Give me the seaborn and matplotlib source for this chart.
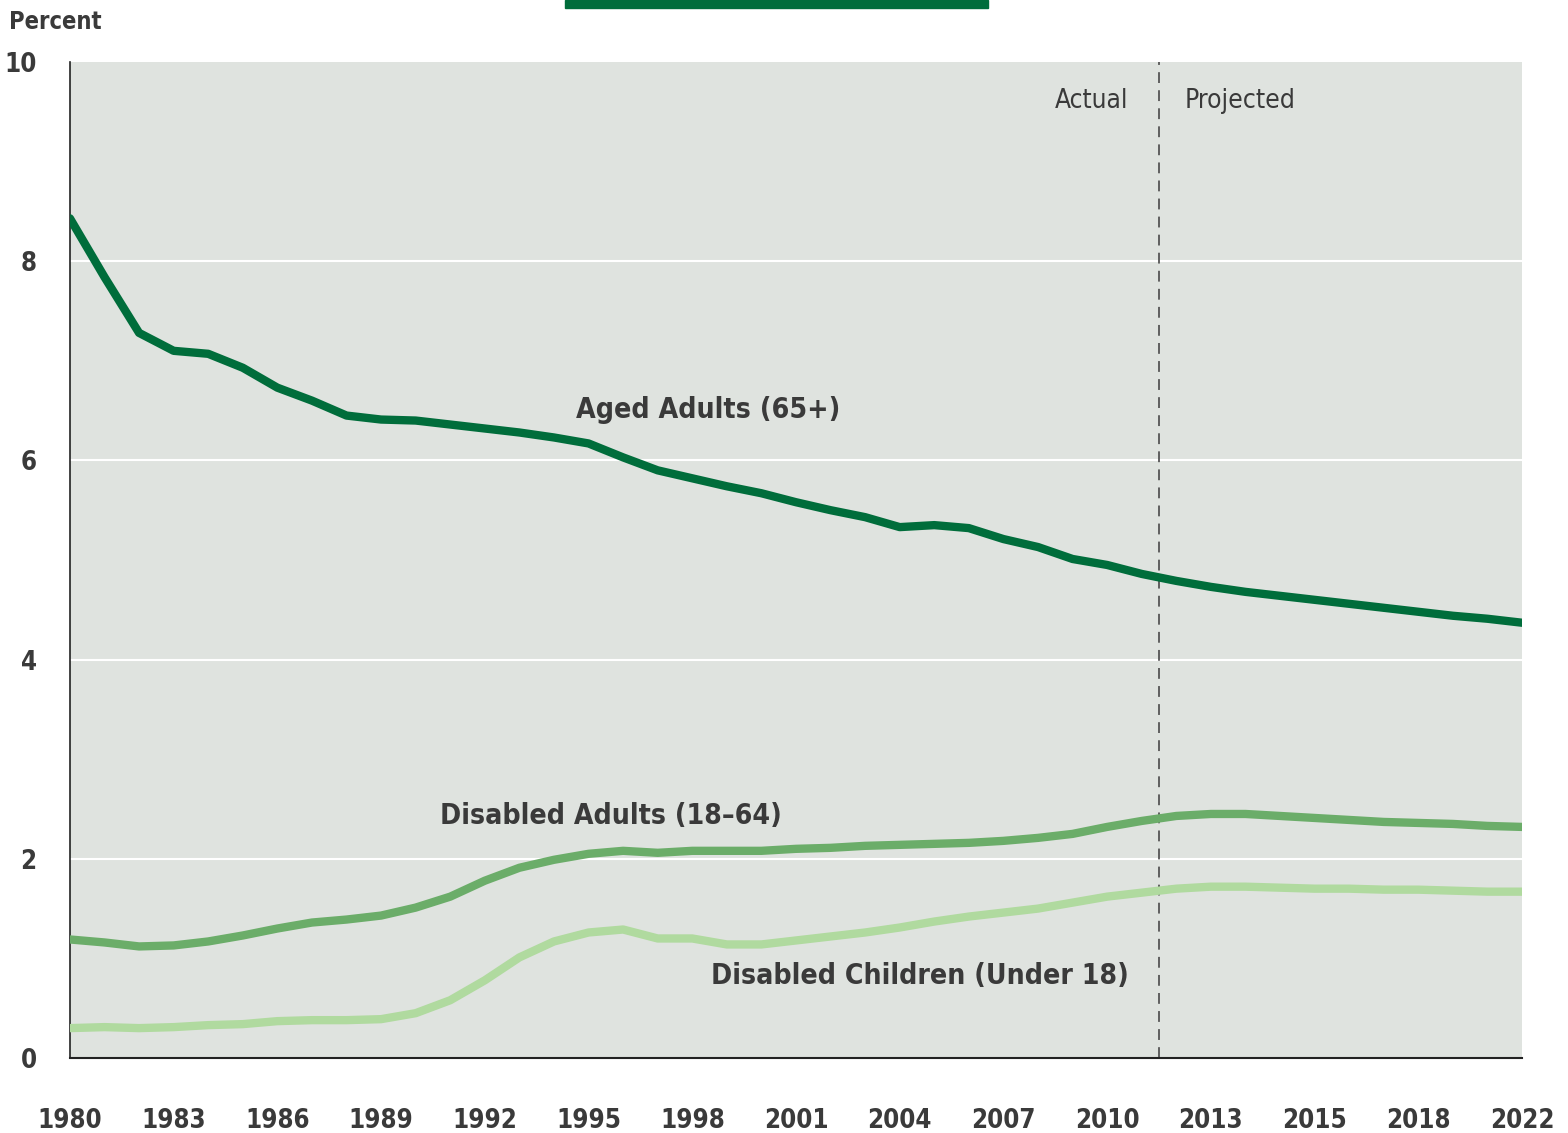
import matplotlib
matplotlib.use("Agg")
import matplotlib.pyplot as plt
import seaborn as sns
import pandas as pd
from matplotlib.patches import Rectangle

# Share of population receiving benefits, by group (percent)
years = list(range(1980, 2023))
aged_adults = [8.43, 7.84, 7.28, 7.10, 7.07, 6.93, 6.73, 6.60, 6.45, 6.41,
               6.40, 6.36, 6.32, 6.28, 6.23, 6.17, 6.03, 5.90, 5.82, 5.74,
               5.67, 5.58, 5.50, 5.43, 5.33, 5.35, 5.32, 5.21, 5.13, 5.01,
               4.95, 4.86, 4.79, 4.73, 4.68, 4.64, 4.60, 4.56, 4.52, 4.48,
               4.44, 4.41, 4.37]
disabled_adults = [1.19, 1.16, 1.12, 1.13, 1.17, 1.23, 1.30, 1.36, 1.39, 1.43,
                   1.51, 1.62, 1.78, 1.91, 1.99, 2.05, 2.08, 2.06, 2.08, 2.08,
                   2.08, 2.10, 2.11, 2.13, 2.14, 2.15, 2.16, 2.18, 2.21, 2.25,
                   2.32, 2.38, 2.43, 2.45, 2.45, 2.43, 2.41, 2.39, 2.37, 2.36,
                   2.35, 2.33, 2.32]
disabled_children = [0.30, 0.31, 0.30, 0.31, 0.33, 0.34, 0.37, 0.38, 0.38, 0.39,
                     0.45, 0.58, 0.78, 1.01, 1.17, 1.26, 1.29, 1.20, 1.20, 1.14,
                     1.14, 1.18, 1.22, 1.26, 1.31, 1.37, 1.42, 1.46, 1.50, 1.56,
                     1.62, 1.66, 1.70, 1.72, 1.72, 1.71, 1.70, 1.70, 1.69, 1.69,
                     1.68, 1.67, 1.67]

series_names = ["Aged Adults (65+)", "Disabled Adults (18\u201364)",
                "Disabled Children (Under 18)"]
tick_years = years[::3]
tick_labels = ["1980", "1983", "1986", "1989", "1992", "1995", "1998", "2001",
               "2004", "2007", "2010", "2013", "2015", "2018", "2022"]
y_ticks = [0, 2, 4, 6, 8, 10]

df = pd.DataFrame({
    "year": years * 3,
    "percent": aged_adults + disabled_adults + disabled_children,
    "group": [series_names[0]] * len(years) + [series_names[1]] * len(years)
             + [series_names[2]] * len(years),
})

palette = {series_names[0]: "#006d3b", series_names[1]: "#6bad69",
           series_names[2]: "#b0da9f"}
text_color = "#3a3a3a"

sns.set_style("white")
# condensed DejaVu is the closest thing to the narrow original typeface
plt.rcParams["font.family"] = ["DejaVu Sans"]
plt.rcParams["font.stretch"] = "condensed"

fig = plt.figure(figsize=(15.68, 11.33), dpi=100)
ax = fig.add_axes([0.0446, 0.0662, 0.9261, 0.8791])
ax.set_facecolor("#dfe3df")

sns.lineplot(data=df, x="year", y="percent", hue="group", palette=palette,
             linewidth=6, legend=False, ax=ax, zorder=3)

ax.set_xlim(years[0], years[-1])
ax.set_ylim(0, 10)
ax.set_yticks(y_ticks)
ax.set_yticklabels([str(v) for v in y_ticks], fontsize=18.5, fontweight="bold",
                   color=text_color)
ax.set_xticks(tick_years)
ax.set_xticklabels(tick_labels, fontsize=18.5, fontweight="bold", color=text_color)
ax.tick_params(axis="x", direction="in", length=9, width=1.2, pad=36,
               color="#222222")
ax.tick_params(axis="y", length=0, pad=24)

for v in y_ticks[1:-1]:
    ax.axhline(v, color="white", linewidth=1.5, zorder=1)

for side in ["top", "right"]:
    ax.spines[side].set_visible(False)
ax.spines["left"].set_color("#222222")
ax.spines["bottom"].set_color("#222222")
ax.spines["left"].set_linewidth(1.2)
ax.spines["bottom"].set_linewidth(1.5)
ax.set_xlabel("")
ax.set_ylabel("")

# actual / projected divider
ax.axvline(2011.5, color="#555555", linewidth=1.3, linestyle=(0, (6, 4)), zorder=2)
ax.text(2010.6, 9.61, "Actual", fontsize=18.8, color=text_color, ha="right", va="center")
ax.text(2012.25, 9.61, "Projected", fontsize=19, color=text_color, ha="left", va="center")

# series labels
ax.text(1998.46, 6.51, series_names[0], fontsize=20.4, fontweight="bold",
        color=text_color, ha="center", va="center")
ax.text(1990.7, 2.43, series_names[1], fontsize=20.3, fontweight="bold",
        color=text_color, ha="left", va="center")
ax.text(1998.55, 0.82, series_names[2], fontsize=20.3, fontweight="bold",
        color=text_color, ha="left", va="center")

fig.text(0.006, 0.981, "Percent", fontsize=17, fontweight="bold",
         color=text_color, ha="left", va="center")
fig.patches.append(Rectangle((565 / 1568, 1 - 8 / 1133), 423 / 1568, 8 / 1133,
                             transform=fig.transFigure, color="#006d3b",
                             figure=fig))

fig.savefig("out.png", dpi=100)
